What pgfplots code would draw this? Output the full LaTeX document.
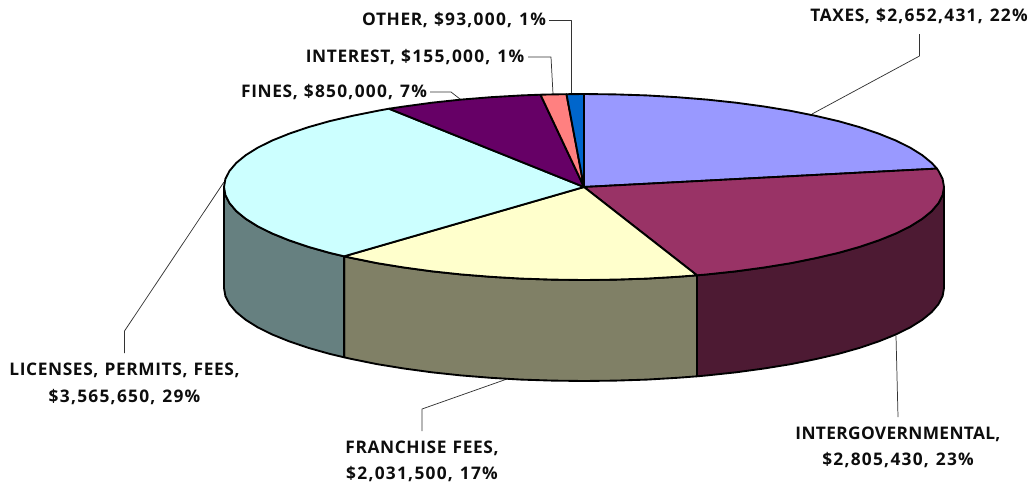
\documentclass[border=0pt]{standalone}
\usepackage{fontspec}
\setmainfont{Open Sans}[LetterSpace=3.5,WordSpace=1.2]
\newfontfamily\numfont{Open Sans}[LetterSpace=7.2,WordSpace=1.2]
\newfontfamily\tightfont{Open Sans}[LetterSpace=1.9,WordSpace=1.2]
\newcommand\nf[1]{{\numfont\bfseries #1}}
\usepackage{pgfplots}
\pgfplotsset{compat=1.18}
\definecolor{ctax}{HTML}{9999FF}
\definecolor{cint}{HTML}{993366}
\definecolor{cfra}{HTML}{FFFFCC}
\definecolor{clic}{HTML}{CCFFFF}
\definecolor{cfin}{HTML}{660066}
\definecolor{cintr}{HTML}{FF8080}
\definecolor{coth}{HTML}{0066CC}
\definecolor{sint}{HTML}{4D1A33}
\definecolor{sfra}{HTML}{808066}
\definecolor{slic}{HTML}{668080}
\tikzset{
  wedge/.style={draw=black, line width=1.4pt},
  lead/.style={draw=black!80, line width=0.55pt},
  lab/.style={font=\fontsize{13pt}{19.8pt}\selectfont\bfseries, align=center, text=black!95, inner sep=0pt, anchor=center},
}
\begin{document}
\begin{tikzpicture}
\begin{axis}[
  scale only axis, width=773.25pt, height=365.25pt,
  xmin=0, xmax=1031, ymin=0, ymax=487, y dir=reverse,
  axis lines=none, ticks=none, clip=false,
  every axis plot/.append style={line join=round, mark=none},
]
% leader lines
\addplot[lead] coordinates {(549,20)(571,20)(571,94)};
\addplot[lead] coordinates {(528,57)(551,57)(553,94)};
\addplot[lead] coordinates {(430,92)(451,92)(460,99)};
\addplot[lead] coordinates {(919.5,34)(919.5,56)(812,114)};
\addplot[lead] coordinates {(124.5,353)(124.5,331)(224,182)};
\addplot[lead] coordinates {(422,431)(422,409)(507,379)};
\addplot[lead] coordinates {(898,417)(896,336)};
% side walls
\addplot[wedge, fill=sint] coordinates {(944,187)(942.6,195.1)(938.5,203.1)(931.7,211.1)(922.3,218.8)(910.3,226.3)(895.8,233.5)(878.9,240.3)(859.8,246.8)(838.6,252.8)(815.4,258.2)(790.5,263.2)(764,267.5)(736.1,271.3)(707.1,274.4)(697,275.3)
 (697,376.3)(707.1,375.4)(736.1,372.3)(764,368.5)(790.5,364.2)(815.4,359.2)(838.6,353.8)(859.8,347.8)(878.9,341.3)(895.8,334.5)(910.3,327.3)(922.3,319.8)(931.7,312.1)(938.5,304.1)(942.6,296.1)(944,288)} -- cycle;
\addplot[wedge, fill=sfra] coordinates {(697,275.3)(677.2,276.8)(646.5,278.6)(615.4,279.6)(584,280)(552.6,279.6)(521.5,278.6)(490.8,276.8)(460.9,274.4)(431.9,271.3)(404,267.5)(377.5,263.2)(352.6,258.2)(344.1,256.3)
 (344.1,357.3)(352.6,359.2)(377.5,364.2)(404,368.5)(431.9,372.3)(460.9,375.4)(490.8,377.8)(521.5,379.6)(552.6,380.6)(584,381)(615.4,380.6)(646.5,379.6)(677.2,377.8)(697,376.3)} -- cycle;
\addplot[wedge, fill=slic] coordinates {(344.1,256.3)(329.4,252.8)(308.2,246.8)(289.1,240.3)(272.2,233.5)(257.7,226.3)(245.7,218.8)(236.3,211.1)(229.5,203.1)(225.4,195.1)(224,187)
 (224,288)(225.4,296.1)(229.5,304.1)(236.3,312.1)(245.7,319.8)(257.7,327.3)(272.2,334.5)(289.1,341.3)(308.2,347.8)(329.4,353.8)(344.1,357.3)} -- cycle;
% top wedges
\addplot[wedge, fill=ctax] coordinates {(584,187)(584,94)(615.4,94.4)(646.5,95.4)(677.2,97.2)(707.1,99.6)(736.1,102.7)(764,106.5)(790.5,110.8)(815.4,115.8)(838.6,121.2)(859.8,127.2)(878.9,133.7)(895.8,140.5)(910.3,147.7)(922.3,155.2)(931.7,162.9)(936.9,168.6)} -- cycle;
\addplot[wedge, fill=cint] coordinates {(584,187)(936.9,168.6)(938.5,170.9)(942.6,178.9)(944,187)(942.6,195.1)(938.5,203.1)(931.7,211.1)(922.3,218.8)(910.3,226.3)(895.8,233.5)(878.9,240.3)(859.8,246.8)(838.6,252.8)(815.4,258.2)(790.5,263.2)(764,267.5)(736.1,271.3)(707.1,274.4)(697,275.3)} -- cycle;
\addplot[wedge, fill=cfra] coordinates {(584,187)(697,275.3)(677.2,276.8)(646.5,278.6)(615.4,279.6)(584,280)(552.6,279.6)(521.5,278.6)(490.8,276.8)(460.9,274.4)(431.9,271.3)(404,267.5)(377.5,263.2)(352.6,258.2)(344.1,256.3)} -- cycle;
\addplot[wedge, fill=clic] coordinates {(584,187)(344.1,256.3)(329.4,252.8)(308.2,246.8)(289.1,240.3)(272.2,233.5)(257.7,226.3)(245.7,218.8)(236.3,211.1)(229.5,203.1)(225.4,195.1)(224,187)(225.4,178.9)(229.5,170.9)(236.3,162.9)(245.7,155.2)(257.7,147.7)(272.2,140.5)(289.1,133.7)(308.2,127.2)(329.4,121.2)(352.6,115.8)(377.5,110.8)(389,108.7)} -- cycle;
\addplot[wedge, fill=cfin] coordinates {(584,187)(389,108.7)(404,106.5)(431.9,102.7)(460.9,99.6)(490.8,97.2)(521.5,95.4)(540.5,94.7)} -- cycle;
\addplot[wedge, fill=cintr] coordinates {(584,187)(540.5,94.7)(552.6,94.4)(566.5,94.2)} -- cycle;
\addplot[wedge, fill=coth] coordinates {(584,187)(566.5,94.2)(584,94)} -- cycle;
% labels
\node[lab] at (axis cs:919,16) {TAXES, \nf{\$2,652,431, 22\%}};
\node[lab] at (axis cs:454,20) {OTHER, \nf{\$93,000, 1\%}};
\node[lab] at (axis cs:415,57) {INTEREST, \nf{\$155,000, 1\%}};
\node[lab] at (axis cs:334,92) {FINES, \nf{\$850,000, 7\%}};
\node[lab] at (axis cs:124.5,384) {LICENSES, PERMITS, FEES,\\\nf{\$3,565,650, 29\%}};
\node[lab] at (axis cs:422,461.5) {FRANCHISE FEES,\\\nf{\$2,031,500, 17\%}};
\node[lab] at (axis cs:898,447.5) {{\tightfont\bfseries INTERGOVERNMENTAL,}\\\nf{\$2,805,430, 23\%}};
\end{axis}
\path[use as bounding box] (0,0) rectangle (773.25pt,365.25pt);
\end{tikzpicture}
\end{document}
